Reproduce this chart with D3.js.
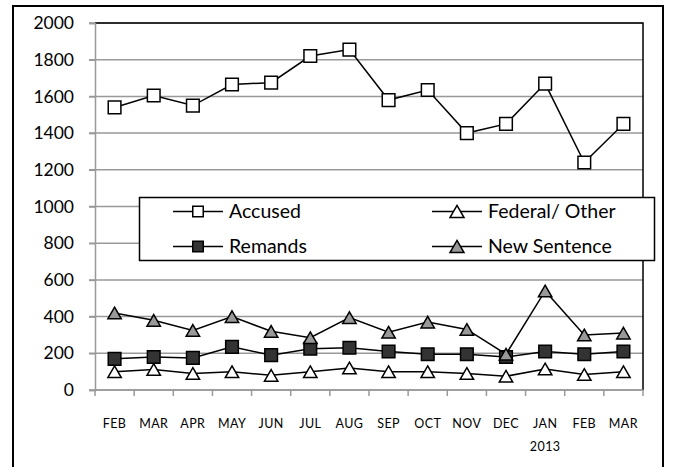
<!DOCTYPE html>
<html>
<head>
<meta charset="utf-8">
<script src="https://cdn.jsdelivr.net/npm/d3@7"></script>
<style>
  body { margin: 0; background: #fff; }
  svg { display: block; font-family: Lato, "Open Sans", sans-serif; }
</style>
</head>
<body>
<div id="chart"></div>
<script>
// month labels (second line only under JAN)
const months = ['FEB', 'MAR', 'APR', 'MAY', 'JUN', 'JUL', 'AUG', 'SEP', 'OCT', 'NOV', 'DEC', 'JAN', 'FEB', 'MAR'];
const yearLabels = ['', '', '', '', '', '', '', '', '', '', '', '2013', '', ''];
const yTicks = [0, 200, 400, 600, 800, 1000, 1200, 1400, 1600, 1800, 2000];

const accused = [1540, 1605, 1550, 1665, 1675, 1820, 1855, 1580, 1635, 1400, 1450, 1670, 1240, 1450];
const federal = [100, 112, 90, 100, 80, 100, 120, 100, 100, 90, 75, 115, 85, 100];
const remands = [170, 180, 175, 235, 190, 225, 230, 210, 195, 195, 180, 210, 195, 210];
const newSentence = [420, 380, 325, 400, 320, 285, 395, 315, 370, 330, 195, 540, 300, 310];

const series = [
  { name: 'Accused', values: accused, shape: 'square', fill: '#ffffff' },
  { name: 'Federal/ Other', values: federal, shape: 'triangle', fill: '#ffffff' },
  { name: 'Remands', values: remands, shape: 'square', fill: '#333333' },
  { name: 'New Sentence', values: newSentence, shape: 'triangle', fill: '#999999' }
];

const W = 673, H = 467;
const margin = { top: 23, right: 30, bottom: 77, left: 95 };
const width = W - margin.left - margin.right;
const height = H - margin.top - margin.bottom;

const svg = d3.select('#chart').append('svg')
  .attr('width', W)
  .attr('height', H);

// chart area border
svg.append('rect')
  .attr('x', 13).attr('y', 6)
  .attr('width', 650).attr('height', 480)
  .attr('fill', 'none')
  .attr('stroke', '#000')
  .attr('stroke-width', 2);

const g = svg.append('g')
  .attr('transform', `translate(${margin.left},${margin.top})`);

const x = d3.scaleBand()
  .domain(d3.range(months.length))
  .range([0, width]);

const y = d3.scaleLinear()
  .domain([0, 2000])
  .range([height, 0]);

// gridlines
g.append('g')
  .selectAll('line')
  .data(yTicks)
  .enter().append('line')
  .attr('x1', -6).attr('x2', width)
  .attr('y1', d => y(d)).attr('y2', d => y(d))
  .attr('stroke', '#999')
  .attr('stroke-width', 1.5);

// plot border top & right
g.append('path')
  .attr('d', `M0,${y(2000)}H${width}V${height}`)
  .attr('fill', 'none')
  .attr('stroke', '#000')
  .attr('stroke-width', 1.5);

// y axis
const yAxis = g.append('g')
  .call(d3.axisLeft(y).tickValues(yTicks).tickFormat(d3.format('d')).tickSize(6).tickPadding(15));
yAxis.select('.domain').attr('stroke', '#999').attr('stroke-width', 1.5);
yAxis.selectAll('.tick line').attr('stroke', '#999').attr('stroke-width', 1.5);
yAxis.selectAll('.tick text')
  .attr('font-size', 17.5)
  .attr('font-family', 'Lato, sans-serif')
  .attr('fill', '#000');

// x axis: ticks at band edges
const xAxis = g.append('g').attr('transform', `translate(0,${height})`);
xAxis.append('line')
  .attr('x1', 0).attr('x2', width)
  .attr('stroke', '#999').attr('stroke-width', 1.5);
xAxis.selectAll('line.tk')
  .data(d3.range(months.length + 1))
  .enter().append('line')
  .attr('class', 'tk')
  .attr('x1', i => i * x.step()).attr('x2', i => i * x.step())
  .attr('y1', 0).attr('y2', 6)
  .attr('stroke', '#999').attr('stroke-width', 1.5);
xAxis.selectAll('text.m')
  .data(months)
  .enter().append('text')
  .attr('class', 'm')
  .attr('x', (d, i) => x(i) + x.bandwidth() / 2)
  .attr('y', 38)
  .attr('text-anchor', 'middle')
  .attr('font-size', 12.5)
  .attr('letter-spacing', 0.4)
  .text(d => d);
xAxis.selectAll('text.yr')
  .data(yearLabels)
  .enter().append('text')
  .attr('class', 'yr')
  .attr('x', (d, i) => x(i) + x.bandwidth() / 2)
  .attr('y', 60.5)
  .attr('text-anchor', 'middle')
  .attr('font-size', 12.5)
  .attr('letter-spacing', 0.4)
  .text(d => d);

const cx = i => x(i) + x.bandwidth() / 2;

const line = d3.line()
  .x((d, i) => cx(i))
  .y(d => y(d));

const squareSym = d3.symbol().type(d3.symbolSquare).size(160);
const triSym = d3.symbol().type(d3.symbolTriangle).size(78);

function marker(sel, s) {
  sel.attr('d', s.shape === 'square' ? squareSym() : triSym())
    .attr('fill', s.fill)
    .attr('stroke', '#000')
    .attr('stroke-width', 1.5);
}

series.forEach(s => {
  const sg = g.append('g');
  sg.append('path')
    .datum(s.values)
    .attr('d', line)
    .attr('fill', 'none')
    .attr('stroke', '#000')
    .attr('stroke-width', 1.5);
  sg.selectAll('path.pt')
    .data(s.values)
    .enter().append('path')
    .attr('class', 'pt')
    .attr('transform', (d, i) => `translate(${cx(i)},${y(d) + (s.shape === 'triangle' ? 2 : 0)})`)
    .call(sel => marker(sel, s));
});

// legend
const legend = svg.append('g');
legend.append('rect')
  .attr('x', 139.5).attr('y', 197.5)
  .attr('width', 515).attr('height', 63)
  .attr('fill', '#fff')
  .attr('stroke', '#000')
  .attr('stroke-width', 1.5);

const legendPos = [
  { x: 173, y: 211.5 },
  { x: 432, y: 211.5 },
  { x: 173, y: 246.5 },
  { x: 432, y: 246.5 }
];

series.forEach((s, i) => {
  const p = legendPos[i];
  const lg = legend.append('g').attr('transform', `translate(${p.x},${p.y})`);
  lg.append('line')
    .attr('x1', 0).attr('x2', 50)
    .attr('stroke', '#000').attr('stroke-width', 1.5);
  lg.append('path')
    .attr('transform', `translate(25,${s.shape === 'triangle' ? 2 : 0})`)
    .call(sel => marker(sel, s))
    .attr('d', s.shape === 'square'
      ? d3.symbol().type(d3.symbolSquare).size(110)()
      : d3.symbol().type(d3.symbolTriangle).size(85)());
  lg.append('text')
    .attr('x', 56)
    .attr('dy', '0.35em')
    .attr('font-size', 19.5)
    .text(s.name);
});
</script>
</body>
</html>
